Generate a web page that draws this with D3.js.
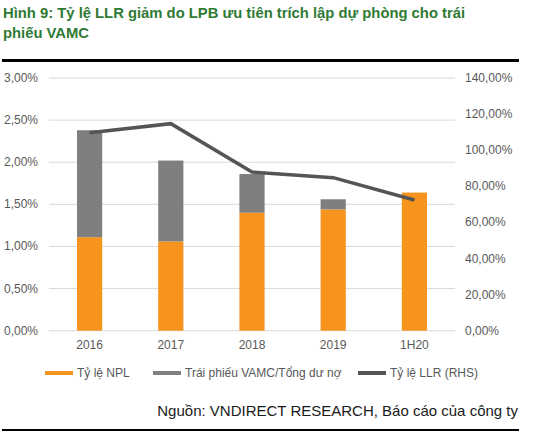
<!DOCTYPE html>
<html><head><meta charset="utf-8">
<script src="https://cdn.jsdelivr.net/npm/d3@7"></script>
<style>body{margin:0;background:#fff}text{font-family:"Liberation Sans",Arial,sans-serif}</style>
</head><body>
<svg id="c" width="553" height="439"></svg>
<script>
var categories = ["2016", "2017", "2018", "2019", "1H20"];
var nplValues = [1.11, 1.06, 1.40, 1.44, 1.64];
var vamcValues = [1.27, 0.96, 0.46, 0.12, 0];
var llrValues = [109.7, 114.7, 87.9, 84.8, 72.4];
var leftTicks = [0, 0.5, 1, 1.5, 2, 2.5, 3];
var rightTicks = [0, 20, 40, 60, 80, 100, 120, 140];

var svg = d3.select("#c");
var fmt = function(v){ return v.toFixed(2).replace(".", ",") + "%"; };

// title
svg.append("text").attr("x", 3).attr("y", 18).attr("fill", "#2f7a34")
  .attr("font-weight", "bold").attr("font-size", 14.8)
  .text("Hình 9: Tỷ lệ LLR giảm do LPB ưu tiên trích lập dự phòng cho trái");
svg.append("text").attr("x", 3).attr("y", 38).attr("fill", "#2f7a34")
  .attr("font-weight", "bold").attr("font-size", 14.8).text("phiếu VAMC");
svg.append("rect").attr("x", 2).attr("y", 59).attr("width", 517).attr("height", 3).attr("fill", "#000");
svg.append("rect").attr("x", 2).attr("y", 429).attr("width", 517).attr("height", 2).attr("fill", "#000");

var x = d3.scaleBand().domain(categories).range([49, 455]).paddingInner(0.69).paddingOuter(0.345);
var y = d3.scaleLinear().domain([0, 3]).range([330.7, 78]);
var y2 = d3.scaleLinear().domain([0, 140]).range([330.7, 78]);

svg.append("g").selectAll("line").data(leftTicks).join("line")
  .attr("x1", 49).attr("x2", 455).attr("y1", d => y(d)).attr("y2", d => y(d))
  .attr("stroke", "#d9d9d9").attr("stroke-width", 1);

svg.append("g").selectAll("text").data(leftTicks).join("text")
  .attr("x", 38).attr("y", d => y(d) + 4).attr("text-anchor", "end")
  .attr("font-size", 12).attr("fill", "#595959").text(fmt);
svg.append("g").selectAll("text").data(rightTicks).join("text")
  .attr("x", 465).attr("y", d => y2(d) + 4)
  .attr("font-size", 12).attr("fill", "#595959").text(fmt);
svg.append("g").selectAll("text").data(categories).join("text")
  .attr("x", d => x(d) + x.bandwidth() / 2).attr("y", 349).attr("text-anchor", "middle")
  .attr("font-size", 12).attr("fill", "#595959").text(d => d);

svg.append("g").selectAll("rect").data(categories).join("rect")
  .attr("x", d => x(d)).attr("width", x.bandwidth())
  .attr("y", (d, i) => y(nplValues[i])).attr("height", (d, i) => y(0) - y(nplValues[i]))
  .attr("fill", "#f7941d");
svg.append("g").selectAll("rect").data(categories).join("rect")
  .attr("x", d => x(d)).attr("width", x.bandwidth())
  .attr("y", (d, i) => y(nplValues[i] + vamcValues[i]))
  .attr("height", (d, i) => y(nplValues[i]) - y(nplValues[i] + vamcValues[i]))
  .attr("fill", "#7f7f7f");

var line = d3.line().x((d, i) => x(categories[i]) + x.bandwidth() / 2).y(d => y2(d));
svg.append("path").datum(llrValues).attr("d", line).attr("fill", "none")
  .attr("stroke", "#555555").attr("stroke-width", 3.5);

// legend
var legend = [["Tỷ lệ NPL", "#f7941d", 45], ["Trái phiếu VAMC/Tổng dư nợ", "#7f7f7f", 153], ["Tỷ lệ LLR (RHS)", "#555555", 358]];
var lg = svg.append("g").selectAll("g").data(legend).join("g");
lg.append("rect").attr("x", d => d[2]).attr("y", 371).attr("width", 28).attr("height", 4).attr("fill", d => d[1]);
lg.append("text").attr("x", d => d[2] + 32).attr("y", 377).attr("font-size", 12)
  .attr("fill", "#595959").text(d => d[0]);

svg.append("text").attr("x", 518).attr("y", 416).attr("text-anchor", "end")
  .attr("font-size", 15).attr("fill", "#1a1a1a").text("Nguồn: VNDIRECT RESEARCH, Báo cáo của công ty");
</script>
</body></html>
